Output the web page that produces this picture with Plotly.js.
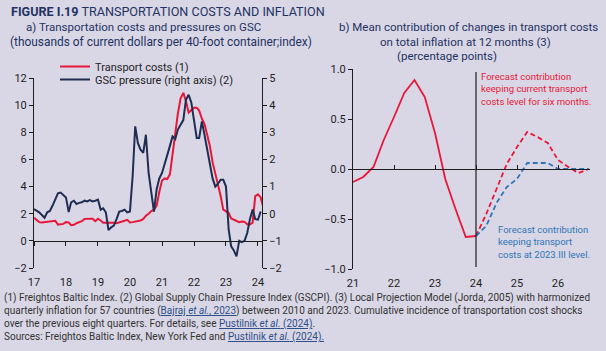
<!DOCTYPE html>
<html>
<head>
<meta charset="utf-8">
<script src="https://cdn.plot.ly/plotly-3.0.1.min.js"></script>
<style>html,body{margin:0;padding:0;background:#d9d7e5;}#chart{width:606px;height:351px;}</style>
</head>
<body>
<div id="chart"></div>
<script>
// ---- Panel a: monthly data, Jan 2017 onward ----
const startYear = 2017;
const transportCosts = [
  1.71,1.55,1.38,1.35,1.38,1.42,1.42,1.45,1.48,1.2,1.2,1.25,
  1.38,1.35,1.15,1.18,1.3,1.35,1.45,1.62,1.63,1.62,1.63,1.45,
  1.63,1.5,1.34,1.33,1.34,1.32,1.34,1.3,1.38,1.42,1.48,1.55,
  1.36,1.38,1.42,1.42,1.5,1.62,1.85,2.0,2.2,2.3,2.6,3.6,
  4.45,4.6,4.55,4.9,6.2,7.9,9.4,10.5,10.9,10.3,9.45,9.6,
  9.8,9.8,9.6,9.0,8.6,7.8,7.0,5.8,5.0,4.3,3.3,2.3,
  2.15,2.05,1.65,1.55,1.5,1.38,1.42,1.4,1.22,1.2,1.34,3.3,
  3.43,3.2,2.5
];
const gscPressure = [
  0.17,0.12,0.05,-0.05,-0.15,0.05,0.1,0.3,0.55,0.75,0.78,0.68,
  0.6,0.06,0.42,0.48,0.36,0.4,0.42,0.48,0.45,0.5,0.45,0.48,
  0.52,0.15,0.2,0.05,-0.6,-0.5,-0.44,-0.2,0.08,0.1,0.15,0.05,
  0.08,1.4,3.22,2.6,2.36,2.24,2.91,1.5,0.7,0.08,0.9,1.3,
  1.5,1.9,2.15,2.5,2.85,2.75,3.1,3.28,3.45,4.2,4.38,4.1,
  3.5,2.79,2.79,3.4,2.9,2.4,1.9,1.3,1.0,1.1,1.25,1.25,
  1.0,-0.6,-1.2,-1.35,-1.57,-1.0,-1.05,-1.0,-0.7,-0.2,0.15,-0.2,
  -0.22,0.08
];
function monthDates(n){const out=[];for(let i=0;i<n;i++){const y=startYear+Math.floor(i/12);const m=(i%12)+1;out.push(y+'-'+(m<10?'0':'')+m+'-01');}return out;}
const datesCosts = monthDates(transportCosts.length);
const datesGsc = monthDates(gscPressure.length);

// ---- Panel b: quarterly data ----
const quartersHist = [21,21.25,21.5,21.75,22,22.25,22.5,22.75,23,23.25,23.5,23.75,24];
const contribHist = [-0.13,-0.08,0.02,0.29,0.52,0.76,0.89,0.72,0.36,-0.10,-0.40,-0.68,-0.67];
const quartersFcst = [24,24.25,24.5,24.75,25,25.25,25.5,25.75,26,26.25,26.5,26.75];
const contribCurrentLevel = [-0.67,-0.45,-0.2,0.05,0.22,0.37,0.32,0.26,0.09,0.02,-0.04,0.0];
const contribFixedLevel = [-0.67,-0.57,-0.34,-0.18,-0.1,0.06,0.06,0.06,0.0,0.0,0.0,0.0];

const legendLabels = ['Transport costs (1)', 'GSC pressure (right axis) (2)'];

const BG = '#d9d7e5', RED = '#e8173a', NAVY = '#1f2d52', BLUE = '#2e75b6', INK = '#1e1e1e', TITLE = '#1f3262';
const FONT = 'Roboto, "Open Sans", sans-serif';
const W = 606, H = 351;
const px = v => v / W, py = v => 1 - v / H;

const yDomA = [py(268), py(78)];
const yDomB = [py(269), py(69)];
const zeroPosA = yDomA[0] + (0 - (-2)) / 14 * (yDomA[1] - yDomA[0]);
const zeroPosB = yDomB[0] + 0.5 * (yDomB[1] - yDomB[0]);
const rangeA = ['2017-01-01', '2024-02-16'];
const rangeB = [21, 26.78];

const traces = [
  {x: datesCosts, y: transportCosts, xaxis: 'x', yaxis: 'y', type: 'scatter', mode: 'lines',
   name: legendLabels[0], line: {color: RED, width: 2}, legend: 'legend'},
  {x: datesGsc, y: gscPressure, xaxis: 'x', yaxis: 'y2', type: 'scatter', mode: 'lines',
   name: legendLabels[1], line: {color: NAVY, width: 2}, legend: 'legend2'},
  {x: [], y: [], xaxis: 'x2', yaxis: 'y', type: 'scatter', mode: 'lines', showlegend: false, hoverinfo: 'skip'},
  {x: quartersHist, y: contribHist, xaxis: 'x3', yaxis: 'y3', type: 'scatter', mode: 'lines',
   line: {color: RED, width: 1.8}, showlegend: false},
  {x: quartersFcst, y: contribCurrentLevel, xaxis: 'x3', yaxis: 'y3', type: 'scatter', mode: 'lines',
   line: {color: RED, width: 1.8, dash: '5px,3px'}, showlegend: false},
  {x: quartersFcst, y: contribFixedLevel, xaxis: 'x3', yaxis: 'y3', type: 'scatter', mode: 'lines',
   line: {color: BLUE, width: 1.8, dash: '5px,3px'}, showlegend: false},
  {x: [], y: [], xaxis: 'x4', yaxis: 'y3', type: 'scatter', mode: 'lines', showlegend: false, hoverinfo: 'skip'}
];

const tickFont = {family: FONT, size: 11, color: INK};
const axBase = {showgrid: false, zeroline: false, tickfont: tickFont, linecolor: INK, tickcolor: INK, linewidth: 1, fixedrange: true};

const layout = {
  width: W, height: H,
  margin: {l: 0, r: 0, t: 0, b: 0},
  paper_bgcolor: BG, plot_bgcolor: BG,
  font: {family: FONT, color: INK},
  xaxis: Object.assign({}, axBase, {domain: [px(34), px(262)], anchor: 'y', type: 'date', range: rangeA,
    tick0: '2017-01-01', dtick: 'M12', tickformat: '%y', ticks: '', showline: false, ticklabelstandoff: 6}),
  xaxis2: Object.assign({}, axBase, {overlaying: 'x', anchor: 'free', position: zeroPosA, type: 'date', range: rangeA,
    tick0: '2017-01-01', dtick: 'M12', ticks: 'outside', ticklen: 4, showline: true, showticklabels: false}),
  yaxis: Object.assign({}, axBase, {domain: yDomA, anchor: 'x', range: [-2, 12], dtick: 2, ticks: 'outside', ticklen: 4, showline: true}),
  yaxis2: Object.assign({}, axBase, {overlaying: 'y', side: 'right', anchor: 'x', range: [-2, 5], dtick: 1, ticks: 'outside', ticklen: 4, showline: true}),
  xaxis3: Object.assign({}, axBase, {domain: [px(353), px(590)], anchor: 'y3', range: rangeB, dtick: 1, ticks: '', showline: false, ticklabelstandoff: 6}),
  xaxis4: Object.assign({}, axBase, {overlaying: 'x3', anchor: 'free', position: zeroPosB, range: rangeB, dtick: 1,
    ticks: 'inside', ticklen: 4, showline: true, showticklabels: false}),
  yaxis3: Object.assign({}, axBase, {domain: yDomB, anchor: 'x3', range: [-1, 1], dtick: 0.5, tickformat: '.1f', ticks: 'outside', ticklen: 4, showline: true}),
  legend: {x: px(55), y: py(52), xanchor: 'left', yanchor: 'top', bgcolor: 'rgba(0,0,0,0)', font: {family: FONT, size: 11, color: INK}, itemwidth: 30},
  legend2: {x: px(55), y: py(65), xanchor: 'left', yanchor: 'top', bgcolor: 'rgba(0,0,0,0)', font: {family: FONT, size: 11, color: INK}, itemwidth: 30},
  shapes: [
    {type: 'line', xref: 'x3', yref: 'y3', x0: 24, x1: 24, y0: -0.98, y1: 0.97, line: {color: INK, width: 1.2}}
  ],
  annotations: [
    {text: '<b>FIGURE I.19</b> TRANSPORTATION COSTS AND INFLATION', x: px(10), y: py(12), xanchor: 'left', yanchor: 'middle',
     font: {family: FONT, size: 12.6, color: TITLE}},
    {text: 'a) Transportation costs and pressures on GSC', x: px(143), y: py(27), xanchor: 'center', yanchor: 'middle',
     font: {family: FONT, size: 11.5, color: TITLE}},
    {text: '(thousands of current dollars per 40-foot container;index)', x: px(9), y: py(42), xanchor: 'left', yanchor: 'middle',
     font: {family: FONT, size: 11.9, color: TITLE}},
    {text: 'b) Mean contribution of changes in transport costs', x: px(468), y: py(27), xanchor: 'center', yanchor: 'middle',
     font: {family: FONT, size: 11.5, color: TITLE}},
    {text: 'on total inflation at 12 months (3)', x: px(465), y: py(42), xanchor: 'center', yanchor: 'middle',
     font: {family: FONT, size: 11.5, color: TITLE}},
    {text: '(percentage points)', x: px(447), y: py(56), xanchor: 'center', yanchor: 'middle',
     font: {family: FONT, size: 11.5, color: TITLE}},
    {text: 'Forecast contribution<br>keeping current transport<br>costs level for six months.', x: px(480), y: py(70), xanchor: 'left', yanchor: 'top', align: 'left',
     font: {family: FONT, size: 9.5, color: RED}},
    {text: 'Forecast contribution<br>keeping transport<br>costs at 2023.III level.', x: px(497), y: py(223), xanchor: 'left', yanchor: 'top', align: 'left',
     font: {family: FONT, size: 9.5, color: BLUE}},
    {text: '(1) Freightos Baltic Index. (2) Global Supply Chain Pressure Index (GSCPI). (3) Local Projection Model (Jorda, 2005) with harmonized<br>' +
           'quarterly inflation for 57 countries (<span style="color:#2d4f8a"><u>Bajraj <i>et al.</i>, 2023</u></span>) between 2010 and 2023. Cumulative incidence of transportation cost shocks<br>' +
           'over the previous eight quarters. For details, see <span style="color:#2d4f8a"><u>Pustilnik <i>et al.</i> (2024)</u></span>.<br>' +
           'Sources: Freightos Baltic Index, New York Fed and <span style="color:#2d4f8a"><u>Pustilnik <i>et al.</i> (2024).</u></span>',
     x: px(3), y: py(291), xanchor: 'left', yanchor: 'top', align: 'left',
     font: {family: FONT, size: 10, color: '#333333'}}
  ].map(a => Object.assign({xref: 'paper', yref: 'paper', showarrow: false, borderpad: 0}, a))
};

Plotly.newPlot('chart', traces, layout, {displayModeBar: false, staticPlot: true});
</script>
</body>
</html>
